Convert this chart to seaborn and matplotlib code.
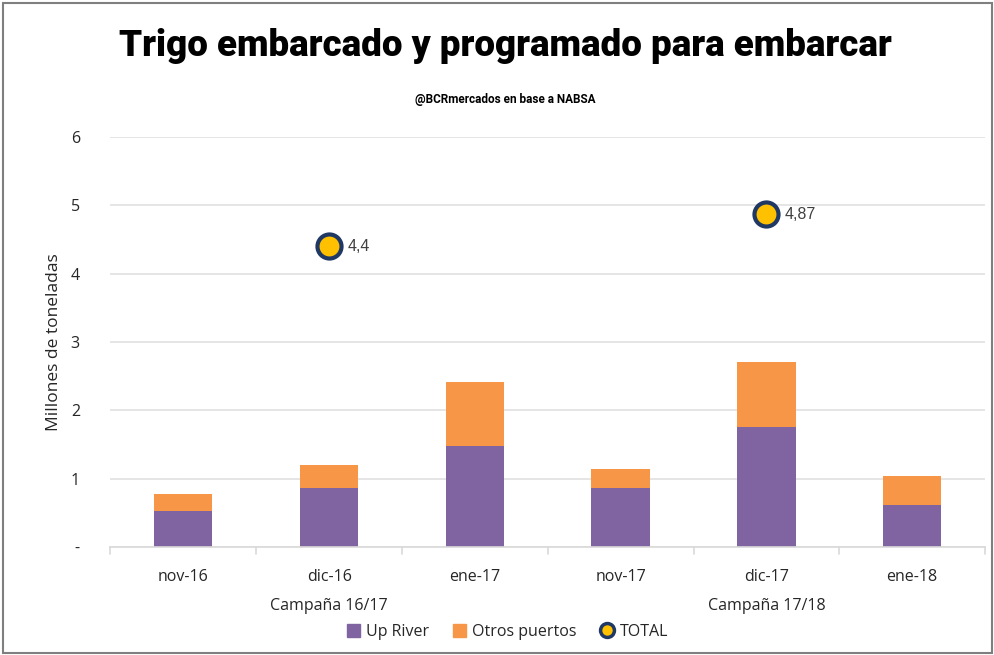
import numpy as np
import pandas as pd
import matplotlib
matplotlib.use("Agg")
import matplotlib.pyplot as plt
import seaborn as sns
from matplotlib.patches import Rectangle
from matplotlib.lines import Line2D

# --- datos ---
meses = ["nov-16", "dic-16", "ene-17", "nov-17", "dic-17", "ene-18"]
up_river = [0.52, 0.86, 1.48, 0.86, 1.75, 0.61]
otros_puertos = [0.25, 0.34, 0.94, 0.28, 0.95, 0.43]
total_mes = ["dic-16", "dic-17"]
total_valor = [4.4, 4.87]
campanias = ["Campaña 16/17", "Campaña 17/18"]
campania_centro = ["dic-16", "dic-17"]

violeta = "#8064A2"
naranja = "#F79646"
dorado = "#FFC000"
azul = "#1F3864"

sns.set_theme(style="white")
plt.rcParams["font.family"] = ["Open Sans", "DejaVu Sans"]

df = pd.DataFrame({"mes": meses, "up": up_river, "otros": otros_puertos})
df["acum"] = df["up"] + df["otros"]

fig = plt.figure(figsize=(9.95, 6.55), dpi=100)
ax = fig.add_axes([0.111, 0.165, 0.879, 0.626])

# barras apiladas: total acumulado abajo, Up River encima
sns.barplot(data=df, x="mes", y="acum", color=naranja, width=0.4, saturation=1,
            linewidth=0, ax=ax)
sns.barplot(data=df, x="mes", y="up", color=violeta, width=0.4, saturation=1,
            linewidth=0, ax=ax)

# puntos TOTAL
pos_total = [meses.index(m) for m in total_mes]
sns.scatterplot(x=pos_total, y=total_valor, s=300, color=dorado, edgecolor=azul,
                linewidth=3, zorder=5, ax=ax)
for p, v in zip(pos_total, total_valor):
    ax.annotate(str(v).replace(".", ","), (p, v), xytext=(13, 0), textcoords="offset points",
                va="center", ha="left", fontsize=11.5, color="#404040",
                family=["Liberation Sans", "DejaVu Sans"])

ax.set_ylim(0, 6)
ax.set_xlim(-0.5, len(meses) - 0.5)
ax.set_yticks(range(0, 7))
ax.set_yticklabels(["-"] + [str(i) for i in range(1, 7)])
ax.yaxis.grid(True, color="#E0E0E0", linewidth=1.2)
ax.set_axisbelow(True)
for s in ["top", "right", "left"]:
    ax.spines[s].set_visible(False)
ax.spines["bottom"].set_color("#D9D9D9")
ax.spines["bottom"].set_linewidth(1.2)

ax.set_xticks(range(len(meses)))
ax.set_xticklabels(meses)
ax.tick_params(axis="x", length=0, labelsize=11.5, colors="#262626", pad=16)
ax.tick_params(axis="y", length=0, labelsize=11.5, colors="#262626", pad=22)
# marcas de separación entre categorías
for b in np.arange(-0.5, len(meses), 1.0):
    ax.plot([b, b], [0, -0.1], color="#D9D9D9", lw=1.2, clip_on=False)

ax.set_xlabel("")
ax.set_ylabel("Millones de toneladas", fontsize=12.5, color="#262626", labelpad=6)

# etiquetas de campaña
for c, m in zip(campanias, campania_centro):
    ax.text(meses.index(m), -0.143, c, transform=ax.get_xaxis_transform(),
            ha="center", va="center", fontsize=11.5, color="#262626")

# leyenda
handles = [
    Rectangle((0, 0), 1, 1, color=violeta),
    Rectangle((0, 0), 1, 1, color=naranja),
    Line2D([], [], marker="o", ls="", markersize=10, markerfacecolor=dorado,
           markeredgecolor=azul, markeredgewidth=2.5),
]
fig.legend(handles, ["Up River", "Otros puertos", "TOTAL"], loc="center",
           bbox_to_anchor=(0.51, 0.035), ncol=3, frameon=False, fontsize=11.5,
           handlelength=0.8, handleheight=0.8, handletextpad=0.4, columnspacing=1.5)

# títulos
fig.text(0.508, 0.93, "Trigo embarcado y programado para embarcar", ha="center", va="center",
         fontsize=26.5, fontweight="black", family=["Roboto", "DejaVu Sans"],
         color="black")
fig.text(0.508, 0.848, "@BCRmercados en base a NABSA", ha="center", va="center",
         fontsize=8.5, fontweight="bold", family=["Roboto", "DejaVu Sans"],
         color="black")

# borde
fig.add_artist(Rectangle((0.003, 0.003), 0.994, 0.993, transform=fig.transFigure,
                         fill=False, edgecolor="#7F7F7F", lw=1.5))

fig.savefig("out.png", dpi=100)
